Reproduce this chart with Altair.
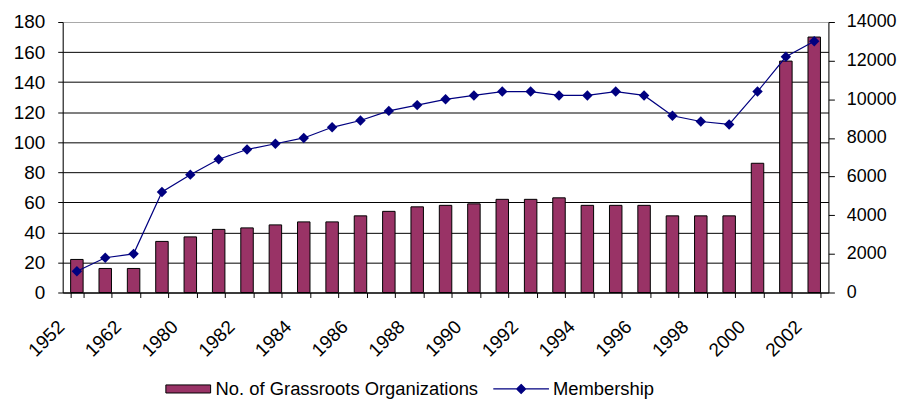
import json
import altair as alt
import pandas as pd

years = ["1952", "1957", "1962", "1978", "1980", "1981", "1982", "1983", "1984",
         "1985", "1986", "1987", "1988", "1989", "1990", "1991", "1992", "1993",
         "1994", "1995", "1996", "1997", "1998", "1999", "2000", "2001", "2002"]
orgs = [22, 16, 16, 34, 37, 42, 43, 45, 47, 47, 51, 54, 57, 58, 59, 62, 62, 63,
        58, 58, 58, 51, 51, 51, 86, 154, 170]
membership = [1100, 1800, 2000, 5200, 6100, 6900, 7400, 7700, 8000, 8550, 8900,
              9400, 9700, 10000, 10200, 10400, 10400, 10200, 10200, 10400, 10200,
              9150, 8850, 8700, 10400, 12200, 13000]
left_ticks = list(range(0, 181, 20))
right_ticks = list(range(0, 14001, 2000))
shown_years = years[::2]

df = pd.DataFrame({"year": years, "orgs": orgs, "membership": membership})

FONT = "Liberation Sans"
label_expr = "indexof(" + json.dumps(shown_years) + ", datum.label) >= 0 ? datum.label : ''"

base = alt.Chart(df).encode(
    x=alt.X(
        "year:N", sort=years,
        scale=alt.Scale(paddingInner=0.56, paddingOuter=0.28),
        axis=alt.Axis(
            title=None, labelAngle=-45, labelAlign="right", labelBaseline="middle",
            labelExpr=label_expr, labelPadding=26, labelOffset=-16, tickBand="extent",
            tickSize=5, tickColor="black", domainColor="black", grid=False,
            labelFontSize=19, labelColor="black", labelFont=FONT, labelOverlap=False,
        ),
    )
)

bars = base.transform_calculate(series="'No. of Grassroots Organizations'").mark_bar(
    stroke="black", strokeWidth=1
).encode(
    y=alt.Y(
        "orgs:Q",
        scale=alt.Scale(domain=[0, 180], nice=False),
        axis=alt.Axis(
            title=None, orient="left", values=left_ticks, tickSize=5, tickColor="black",
            domainColor="black", labelPadding=13, labelFontSize=19, labelColor="black",
            labelFont=FONT, grid=True,
            gridColor=alt.condition("datum.value == 180", alt.value("#A8A8A8"), alt.value("black")),
            gridWidth=1,
        ),
    ),
    fill=alt.Fill(
        "series:N",
        scale=alt.Scale(range=["#993366"]),
        legend=alt.Legend(
            title=None, orient="none", legendX=103, legendY=357, padding=0,
            symbolType="M-2,-0.36H2V0.36H-2Z", symbolSize=506.25, symbolOffset=11.25,
            symbolStrokeColor="black", symbolStrokeWidth=1, labelOffset=15.5,
            labelFontSize=18.5, labelFont=FONT, labelColor="black", labelLimit=500,
        ),
    ),
)

right_base = base.encode(
    y=alt.Y(
        "membership:Q",
        scale=alt.Scale(domain=[0, 14000], nice=False),
        axis=alt.Axis(
            title=None, orient="right", values=right_ticks, tickSize=6, tickColor="black",
            domainColor="black", labelPadding=12, labelFontSize=18, labelColor="black",
            labelFont=FONT, grid=False, format="d",
        ),
    )
)

line = right_base.transform_calculate(series="'Membership'").mark_line(
    strokeWidth=1.2
).encode(
    stroke=alt.Stroke(
        "series:N",
        scale=alt.Scale(range=["#000080"]),
        legend=alt.Legend(
            title=None, orient="none", legendX=432, legendY=354, padding=0,
            symbolType="M-2,0H2M0,-0.32L0.32,0L0,0.32L-0.32,0Z", symbolSize=784,
            symbolOffset=14, symbolFillColor="#000080", symbolStrokeWidth=1.2,
            labelOffset=17, labelFontSize=18.5, labelFont=FONT, labelColor="black",
            labelLimit=500,
        ),
    )
)

points = right_base.mark_point(shape="diamond", filled=True, color="#000080", size=110, opacity=1)

chart = alt.layer(bars, alt.layer(line, points)).resolve_scale(
    y="independent"
).properties(
    width=770, height=272,
    autosize=alt.AutoSizeParams(type="none"),
    padding={"left": 55, "top": 13, "right": 75, "bottom": 106},
    background="white",
).configure_view(
    fill="#C0C0C0", stroke="#A8A8A8"
).configure(font=FONT)

chart.save("out.html", embed_options={"renderer": "svg", "actions": False})
